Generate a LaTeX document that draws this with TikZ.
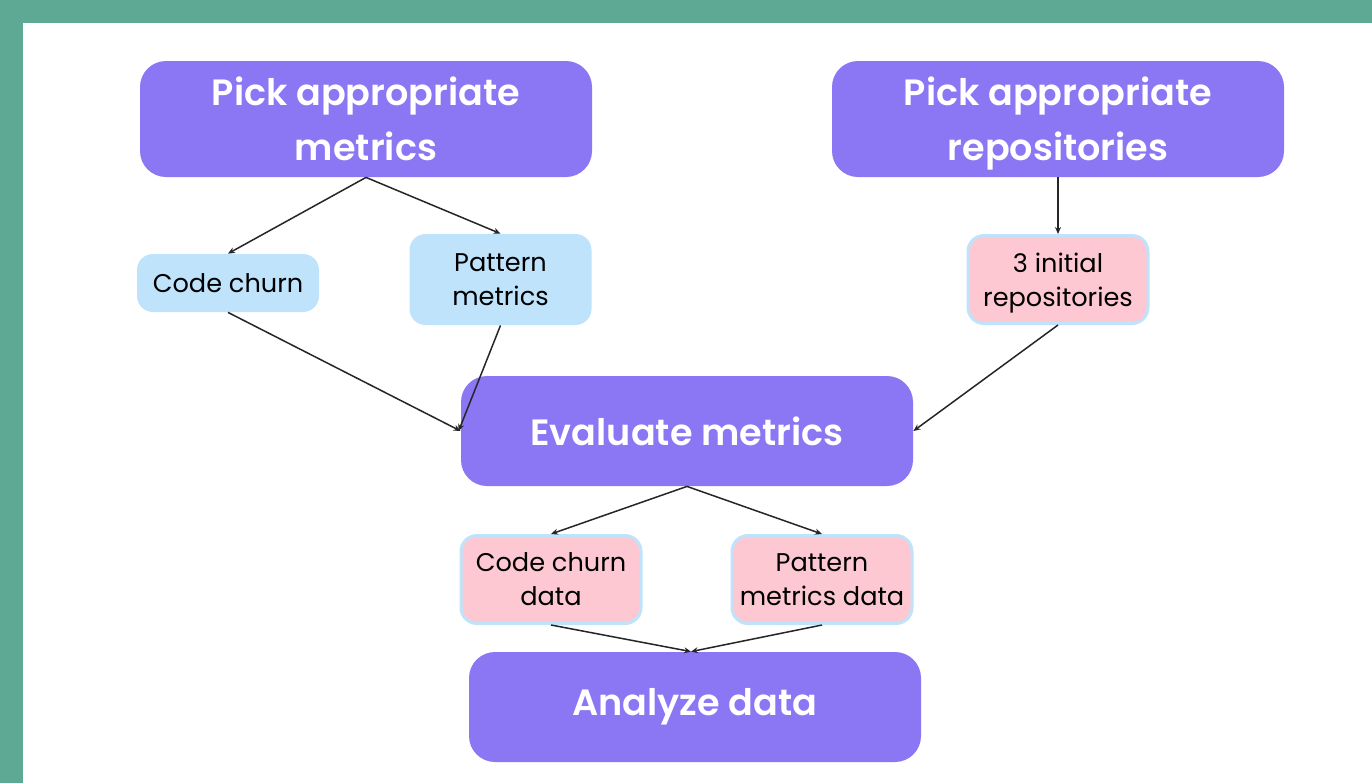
\documentclass[tikz,border=0pt]{standalone}
\usepackage{fontspec}
\setmainfont{Poppins}[BoldFont={Poppins SemiBold}]
\usetikzlibrary{arrows.meta}
\definecolor{teal}{HTML}{5DA993}
\definecolor{purp}{HTML}{8B76F4}
\definecolor{lblue}{HTML}{BEE3FB}
\definecolor{lpink}{HTML}{FDC8D2}
\definecolor{arr}{HTML}{262626}
\tikzset{
  big/.style={rectangle, rounded corners=13pt, fill=purp, text=white, minimum width=226pt, minimum height=58pt, align=center, font=\fontsize{18.3}{27.5}\selectfont\bfseries, inner sep=0pt},
  bluebox/.style={rectangle, rounded corners=8pt, fill=lblue, text=black, minimum width=91pt, align=center, font=\fontsize{12.8}{17}\selectfont, inner sep=0pt},
  pinkbox/.style={rectangle, rounded corners=8pt, fill=lpink, draw=lblue, line width=1.5pt, text=black, minimum width=90pt, minimum height=44pt, align=center, font=\fontsize{12.8}{17}\selectfont, inner sep=0pt},
  conn/.style={draw=arr, line width=0.75pt, -{Stealth[length=3.5pt,width=3pt]}}
}
\begin{document}
\begin{tikzpicture}[x=0.5pt,y=-0.5pt]
\useasboundingbox (0,0) rectangle (1372,783);
\fill[teal] (0,0) rectangle (1372,783);
\fill[white] (23,23) rectangle (1372,783);
\node[big] (pm) at (366,119) {Pick appropriate\\metrics};
\node[big] (pr) at (1058,119) {Pick appropriate\\\smash{repositories}};
\node[bluebox, minimum height=29pt] (cc) at (228,283) {Code churn};
\node[bluebox, minimum height=45.5pt] (pat) at (500.5,279.5) {Pattern\\metrics};
\node[pinkbox] (ini) at (1058,279.5) {3 initial\\\smash{repositories}};
\node[big, minimum height=55pt] (ev) at (687,431) {Evaluate metrics};
\node[pinkbox] (ccd) at (551,579.5) {Code churn\\data};
\node[pinkbox] (pmd) at (822,579.5) {Pattern\\metrics data};
\node[big, minimum height=55pt] (an) at (695,707) {Analyze data};
\draw[conn] (pm.south) -- (cc.north);
\draw[conn] (pm.south) -- (pat.north);
\draw[conn] (pr.south) -- (ini.north);
\draw[conn] (cc.south) -- (ev.west);
\draw[conn] (pat.south) -- ([xshift=-1pt]ev.west);
\draw[conn] (ini.south) -- (ev.east);
\draw[conn] (ev.south) -- (ccd.north);
\draw[conn] (ev.south) -- (pmd.north);
\draw[conn] (ccd.south) -- ([xshift=-2pt]an.north);
\draw[conn] (pmd.south) -- ([xshift=-2pt]an.north);
\end{tikzpicture}
\end{document}
